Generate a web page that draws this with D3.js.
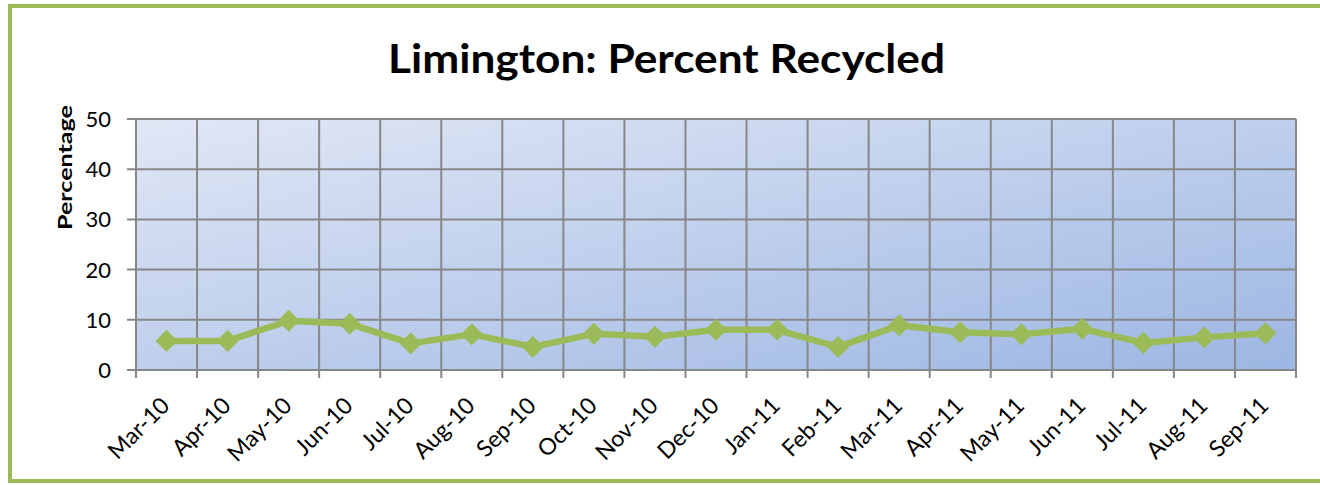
<!DOCTYPE html>
<html>
<head>
<meta charset="utf-8">
<script src="https://cdn.jsdelivr.net/npm/d3@7"></script>
<style>
  body { margin: 0; background: #fff; }
  svg { display: block; font-family: Lato, Carlito, "Open Sans", sans-serif; }
</style>
</head>
<body>
<svg width="1320" height="485"></svg>
<script>
// chart data
var months = ["Mar-10","Apr-10","May-10","Jun-10","Jul-10","Aug-10","Sep-10","Oct-10","Nov-10","Dec-10",
              "Jan-11","Feb-11","Mar-11","Apr-11","May-11","Jun-11","Jul-11","Aug-11","Sep-11"];
var percentRecycled = [5.8, 5.8, 9.8, 9.2, 5.3, 7.1, 4.6, 7.2, 6.6, 8.0,
                       8.0, 4.6, 8.9, 7.5, 7.1, 8.2, 5.4, 6.5, 7.3];
var yTicks = [0, 10, 20, 30, 40, 50];

function main(){
    var svg = d3.select("svg");
    var left = 136, right = 1296, top = 119, bottom = 370;

    // outer chart border
    svg.append("rect")
        .attr("x", 10).attr("y", 6)
        .attr("width", 1330).attr("height", 475)
        .attr("fill", "#fff")
        .attr("stroke", "#9bbb59")
        .attr("stroke-width", 4);

    // background gradient of plot area
    var grad = svg.append("defs").append("linearGradient")
        .attr("id", "plotBg")
        .attr("x1", "0%").attr("y1", "0%")
        .attr("x2", "100%").attr("y2", "100%");
    grad.append("stop").attr("offset", "0%").attr("stop-color", "#e1e7f5");
    grad.append("stop").attr("offset", "100%").attr("stop-color", "#9cb6e3");

    var xScale = d3.scaleBand().domain(months).range([left, right]);
    var yScale = d3.scaleLinear().domain([0, 50]).range([bottom, top]);

    svg.append("rect")
        .attr("x", left).attr("y", top)
        .attr("width", right - left).attr("height", bottom - top)
        .attr("fill", "url(#plotBg)");

    // horizontal gridlines + y ticks
    svg.append("g")
        .selectAll("line")
        .data(yTicks)
        .enter().append("line")
        .attr("x1", left - 9).attr("x2", right)
        .attr("y1", function(d){ return yScale(d); })
        .attr("y2", function(d){ return yScale(d); })
        .attr("stroke", "#878787")
        .attr("stroke-width", 2);

    // vertical gridlines (category boundaries) extending as tick marks
    var bounds = months.map(function(m){ return xScale(m); }).concat([right]);
    svg.append("g")
        .selectAll("line")
        .data(bounds)
        .enter().append("line")
        .attr("x1", function(d){ return d; })
        .attr("x2", function(d){ return d; })
        .attr("y1", top)
        .attr("y2", bottom + 8)
        .attr("stroke", "#878787")
        .attr("stroke-width", 2);

    // y tick labels
    svg.append("g")
        .selectAll("text")
        .data(yTicks)
        .enter().append("text")
        .attr("x", 111)
        .attr("y", function(d){ return yScale(d); })
        .attr("dy", "0.36em")
        .attr("text-anchor", "end")
        .attr("font-size", "22px")
        .attr("fill", "#000")
        .text(function(d){ return d; });

    // x tick labels, rotated
    svg.append("g")
        .selectAll("text")
        .data(months)
        .enter().append("text")
        .attr("transform", function(d){
            var x = xScale(d) + xScale.bandwidth() / 2 + 4.5;
            return "translate(" + x + "," + 407 + ") rotate(-45)";
        })
        .attr("text-anchor", "end")
        .attr("font-size", "23px")
        .attr("fill", "#000")
        .text(function(d){ return d; });

    // y axis title
    svg.append("text")
        .attr("transform", "translate(72,167.5) rotate(-90)")
        .attr("text-anchor", "middle")
        .attr("font-size", "19.5px")
        .attr("font-weight", "bold")
        .attr("textLength", 125)
        .attr("lengthAdjust", "spacingAndGlyphs")
        .text("Percentage");

    // chart title
    svg.append("text")
        .attr("x", 666.5).attr("y", 73)
        .attr("text-anchor", "middle")
        .attr("font-size", "41px")
        .attr("font-weight", "bold")
        .attr("textLength", 557)
        .attr("lengthAdjust", "spacingAndGlyphs")
        .text("Limington: Percent Recycled");

    // line
    var line = d3.line()
        .x(function(d, i){ return xScale(months[i]) + xScale.bandwidth() / 2; })
        .y(function(d){ return yScale(d); });
    svg.append("path")
        .datum(percentRecycled)
        .attr("d", line)
        .attr("fill", "none")
        .attr("stroke", "#9bbb59")
        .attr("stroke-width", 6.5)
        .attr("stroke-linejoin", "round");

    // diamond markers
    svg.append("g")
        .selectAll("path")
        .data(percentRecycled)
        .enter().append("path")
        .attr("d", d3.symbol().type(d3.symbolDiamond2).size(310))
        .attr("transform", function(d, i){
            return "translate(" + (xScale(months[i]) + xScale.bandwidth() / 2) + "," + yScale(d) + ")";
        })
        .attr("fill", "#9bbb59");
}
main();
</script>
</body>
</html>
